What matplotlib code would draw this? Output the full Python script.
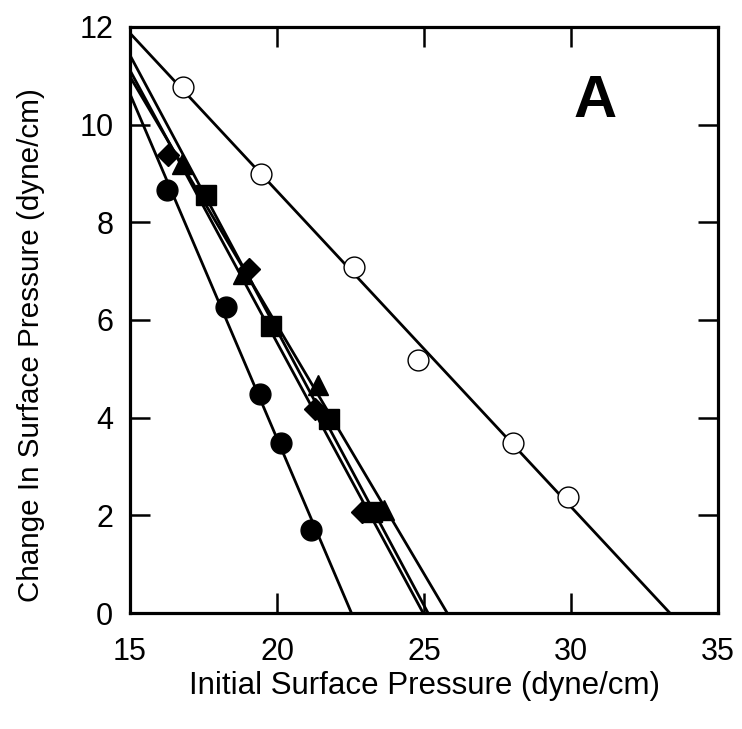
import numpy as np
import matplotlib.pyplot as plt

plt.rcParams['font.family'] = ['Liberation Sans', 'DejaVu Sans']

# initial surface pressure (x) vs change in surface pressure (y), dyne/cm
open_x = [16.81, 19.44, 22.63, 24.79, 28.02, 29.90]
open_y = [10.78, 8.98, 7.08, 5.18, 3.48, 2.38]

circle_x = [16.25, 18.27, 19.42, 20.14, 21.16]
circle_y = [8.66, 6.27, 4.48, 3.48, 1.69]

square_x = [17.57, 19.80, 21.77, 23.23]
square_y = [8.56, 5.88, 3.97, 2.07]

tri_x = [16.77, 18.85, 21.38, 23.64]
tri_y = [9.20, 6.95, 4.67, 2.10]

diamond_x = [16.30, 19.05, 21.29, 22.89]
diamond_y = [9.38, 7.05, 4.18, 2.07]

series = [
    (open_x, open_y, dict(marker="o", ms=15, mfc="white", mec="black", mew=1.0)),
    (circle_x, circle_y, dict(marker="o", ms=15, mfc="black", mec="black")),
    (square_x, square_y, dict(marker="s", ms=15, mfc="black", mec="black")),
    (tri_x, tri_y, dict(marker="^", ms=14.5, mfc="black", mec="black")),
    (diamond_x, diamond_y, dict(marker="D", ms=11, mfc="black", mec="black")),
]

fig = plt.figure(figsize=(7.42, 7.29), dpi=100)
ax = fig.add_axes([0.1752, 0.1591, 0.7925, 0.8039])

xfit = np.linspace(15, 35, 200)
for x, y, style in series:
    # least-squares line through each set
    m, b = np.polyfit(x, y, 1)
    ax.plot(xfit, m * xfit + b, color="black", lw=2.0, zorder=2)
    ax.plot(x, y, ls="none", zorder=3, **style)

ax.set_xlim(15, 35)
ax.set_ylim(0, 12)
ax.set_xticks([15, 20, 25, 30, 35])
ax.set_yticks([0, 2, 4, 6, 8, 10, 12])

for s in ax.spines.values():
    s.set_linewidth(2.3)
ax.tick_params(direction="in", length=14.5, width=1.8, top=True, right=True,
               labelsize=22)
ax.tick_params(axis="x", pad=17)
ax.tick_params(axis="y", pad=12)

ax.set_xlabel("Initial Surface Pressure (dyne/cm)", fontsize=22.5, labelpad=3)
ax.set_ylabel("Change In Surface Pressure (dyne/cm)", fontsize=21.3)
ax.yaxis.set_label_coords(-0.145, 0.457)

ax.text(0.791, 0.872, "A", transform=ax.transAxes, fontsize=43,
        fontweight="bold", ha="center", va="center")

fig.savefig("out.png", dpi=100)
